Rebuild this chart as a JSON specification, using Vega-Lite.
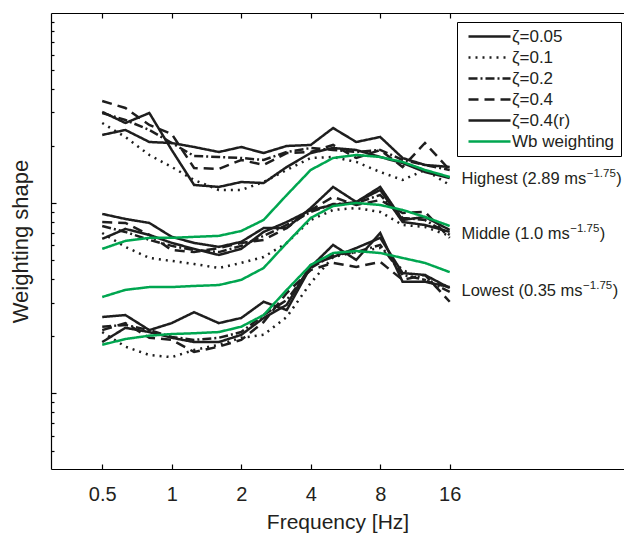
{
  "$schema": "https://vega.github.io/schema/vega-lite/v6.json",
  "width": 573,
  "height": 456,
  "autosize": {"type": "none"},
  "padding": {"left": 51, "top": 13, "right": 0, "bottom": 67},
  "background": "white",
  "config": {
    "view": {"stroke": null},
    "font": "Liberation Sans",
    "axis": {
      "grid": false,
      "domainColor": "#000",
      "domainWidth": 1.2,
      "tickColor": "#000",
      "tickWidth": 1.2,
      "labelFont": "Liberation Sans",
      "labelFontSize": 20,
      "labelColor": "#231f20",
      "titleFont": "Liberation Sans",
      "titleFontSize": 21,
      "titleFontWeight": "normal",
      "titleColor": "#231f20"
    },
    "legend": {
      "orient": "none",
      "legendX": 406,
      "legendY": 9,
      "strokeColor": "#000",
      "fillColor": "#fff",
      "padding": 6,
      "rowPadding": 3,
      "labelFont": "Liberation Sans",
      "labelFontSize": 17,
      "labelColor": "#231f20",
      "symbolType": "M-3,0H3",
      "symbolSize": 196,
      "symbolOffset": 18,
      "labelOffset": 14
    }
  },
  "datasets": {
    "curves": [
      {"g":"H","s":"ζ=0.05","f":0.5,"v":3.02},{"g":"H","s":"ζ=0.05","f":0.63,"v":2.64},{"g":"H","s":"ζ=0.05","f":0.8,"v":2.98},{"g":"H","s":"ζ=0.05","f":1,"v":1.904},{"g":"H","s":"ζ=0.05","f":1.25,"v":1.247},{"g":"H","s":"ζ=0.05","f":1.6,"v":1.217},{"g":"H","s":"ζ=0.05","f":2,"v":1.292},{"g":"H","s":"ζ=0.05","f":2.5,"v":1.276},{"g":"H","s":"ζ=0.05","f":3.15,"v":1.55},{"g":"H","s":"ζ=0.05","f":4,"v":1.835},{"g":"H","s":"ζ=0.05","f":5,"v":1.95},{"g":"H","s":"ζ=0.05","f":6.3,"v":1.904},{"g":"H","s":"ζ=0.05","f":8,"v":1.749},{"g":"H","s":"ζ=0.05","f":10,"v":1.626},{"g":"H","s":"ζ=0.05","f":12.5,"v":1.459},{"g":"H","s":"ζ=0.05","f":16,"v":1.356},
      {"g":"H","s":"ζ=0.1","f":0.5,"v":2.64},{"g":"H","s":"ζ=0.1","f":0.63,"v":2.229},{"g":"H","s":"ζ=0.1","f":0.8,"v":1.792},{"g":"H","s":"ζ=0.1","f":1,"v":1.55},{"g":"H","s":"ζ=0.1","f":1.25,"v":1.324},{"g":"H","s":"ζ=0.1","f":1.6,"v":1.173},{"g":"H","s":"ζ=0.1","f":2,"v":1.173},{"g":"H","s":"ζ=0.1","f":2.5,"v":1.292},{"g":"H","s":"ζ=0.1","f":3.15,"v":1.495},{"g":"H","s":"ζ=0.1","f":4,"v":1.728},{"g":"H","s":"ζ=0.1","f":5,"v":1.749},{"g":"H","s":"ζ=0.1","f":6.3,"v":1.647},{"g":"H","s":"ζ=0.1","f":8,"v":1.459},{"g":"H","s":"ζ=0.1","f":10,"v":1.324},{"g":"H","s":"ζ=0.1","f":12.5,"v":1.495},{"g":"H","s":"ζ=0.1","f":16,"v":1.247},
      {"g":"H","s":"ζ=0.2","f":0.5,"v":2.98},{"g":"H","s":"ζ=0.2","f":0.63,"v":2.738},{"g":"H","s":"ζ=0.2","f":0.8,"v":2.426},{"g":"H","s":"ζ=0.2","f":1,"v":2.072},{"g":"H","s":"ζ=0.2","f":1.25,"v":1.771},{"g":"H","s":"ζ=0.2","f":1.6,"v":1.749},{"g":"H","s":"ζ=0.2","f":2,"v":1.728},{"g":"H","s":"ζ=0.2","f":2.5,"v":1.687},{"g":"H","s":"ζ=0.2","f":3.15,"v":1.858},{"g":"H","s":"ζ=0.2","f":4,"v":1.95},{"g":"H","s":"ζ=0.2","f":5,"v":1.904},{"g":"H","s":"ζ=0.2","f":6.3,"v":1.858},{"g":"H","s":"ζ=0.2","f":8,"v":1.904},{"g":"H","s":"ζ=0.2","f":10,"v":1.687},{"g":"H","s":"ζ=0.2","f":12.5,"v":1.588},{"g":"H","s":"ζ=0.2","f":16,"v":1.495},
      {"g":"H","s":"ζ=0.4","f":0.5,"v":3.446},{"g":"H","s":"ζ=0.4","f":0.63,"v":3.165},{"g":"H","s":"ζ=0.4","f":0.8,"v":2.577},{"g":"H","s":"ζ=0.4","f":1,"v":2.312},{"g":"H","s":"ζ=0.4","f":1.25,"v":1.531},{"g":"H","s":"ζ=0.4","f":1.6,"v":1.513},{"g":"H","s":"ζ=0.4","f":2,"v":1.687},{"g":"H","s":"ζ=0.4","f":2.5,"v":1.588},{"g":"H","s":"ζ=0.4","f":3.15,"v":1.835},{"g":"H","s":"ζ=0.4","f":4,"v":1.858},{"g":"H","s":"ζ=0.4","f":5,"v":2.023},{"g":"H","s":"ζ=0.4","f":6.3,"v":1.728},{"g":"H","s":"ζ=0.4","f":8,"v":1.904},{"g":"H","s":"ζ=0.4","f":10,"v":1.55},{"g":"H","s":"ζ=0.4","f":12.5,"v":2.072},{"g":"H","s":"ζ=0.4","f":16,"v":1.495},
      {"g":"H","s":"ζ=0.4(r)","f":0.5,"v":2.284},{"g":"H","s":"ζ=0.4(r)","f":0.63,"v":2.426},{"g":"H","s":"ζ=0.4(r)","f":0.8,"v":2.097},{"g":"H","s":"ζ=0.4(r)","f":1,"v":2.072},{"g":"H","s":"ζ=0.4(r)","f":1.25,"v":1.974},{"g":"H","s":"ζ=0.4(r)","f":1.6,"v":1.858},{"g":"H","s":"ζ=0.4(r)","f":2,"v":1.974},{"g":"H","s":"ζ=0.4(r)","f":2.5,"v":1.835},{"g":"H","s":"ζ=0.4(r)","f":3.15,"v":1.999},{"g":"H","s":"ζ=0.4(r)","f":4,"v":2.023},{"g":"H","s":"ζ=0.4(r)","f":5,"v":2.484},{"g":"H","s":"ζ=0.4(r)","f":6.3,"v":2.097},{"g":"H","s":"ζ=0.4(r)","f":8,"v":2.229},{"g":"H","s":"ζ=0.4(r)","f":10,"v":1.728},{"g":"H","s":"ζ=0.4(r)","f":12.5,"v":1.588},{"g":"H","s":"ζ=0.4(r)","f":16,"v":1.55},
      {"g":"M","s":"ζ=0.05","f":0.5,"v":0.878},{"g":"M","s":"ζ=0.05","f":0.63,"v":0.826},{"g":"M","s":"ζ=0.05","f":0.8,"v":0.787},{"g":"M","s":"ζ=0.05","f":1,"v":0.665},{"g":"M","s":"ζ=0.05","f":1.25,"v":0.618},{"g":"M","s":"ζ=0.05","f":1.6,"v":0.589},{"g":"M","s":"ζ=0.05","f":2,"v":0.626},{"g":"M","s":"ζ=0.05","f":2.5,"v":0.74},{"g":"M","s":"ζ=0.05","f":3.15,"v":0.74},{"g":"M","s":"ζ=0.05","f":4,"v":0.943},{"g":"M","s":"ζ=0.05","f":5,"v":1.217},{"g":"M","s":"ζ=0.05","f":6.3,"v":1.014},{"g":"M","s":"ζ=0.05","f":8,"v":1.217},{"g":"M","s":"ζ=0.05","f":10,"v":0.816},{"g":"M","s":"ζ=0.05","f":12.5,"v":0.846},{"g":"M","s":"ζ=0.05","f":16,"v":0.723},
      {"g":"M","s":"ζ=0.1","f":0.5,"v":0.697},{"g":"M","s":"ζ=0.1","f":0.63,"v":0.589},{"g":"M","s":"ζ=0.1","f":0.8,"v":0.515},{"g":"M","s":"ζ=0.1","f":1,"v":0.497},{"g":"M","s":"ζ=0.1","f":1.25,"v":0.479},{"g":"M","s":"ζ=0.1","f":1.6,"v":0.456},{"g":"M","s":"ζ=0.1","f":2,"v":0.485},{"g":"M","s":"ζ=0.1","f":2.5,"v":0.521},{"g":"M","s":"ζ=0.1","f":3.15,"v":0.618},{"g":"M","s":"ζ=0.1","f":4,"v":0.816},{"g":"M","s":"ζ=0.1","f":5,"v":0.921},{"g":"M","s":"ζ=0.1","f":6.3,"v":0.943},{"g":"M","s":"ζ=0.1","f":8,"v":0.899},{"g":"M","s":"ζ=0.1","f":10,"v":0.768},{"g":"M","s":"ζ=0.1","f":12.5,"v":0.75},{"g":"M","s":"ζ=0.1","f":16,"v":0.673},
      {"g":"M","s":"ζ=0.2","f":0.5,"v":0.759},{"g":"M","s":"ζ=0.2","f":0.63,"v":0.706},{"g":"M","s":"ζ=0.2","f":0.8,"v":0.641},{"g":"M","s":"ζ=0.2","f":1,"v":0.596},{"g":"M","s":"ζ=0.2","f":1.25,"v":0.567},{"g":"M","s":"ζ=0.2","f":1.6,"v":0.553},{"g":"M","s":"ζ=0.2","f":2,"v":0.596},{"g":"M","s":"ζ=0.2","f":2.5,"v":0.673},{"g":"M","s":"ζ=0.2","f":3.15,"v":0.768},{"g":"M","s":"ζ=0.2","f":4,"v":0.899},{"g":"M","s":"ζ=0.2","f":5,"v":0.99},{"g":"M","s":"ζ=0.2","f":6.3,"v":1.002},{"g":"M","s":"ζ=0.2","f":8,"v":1.104},{"g":"M","s":"ζ=0.2","f":10,"v":0.836},{"g":"M","s":"ζ=0.2","f":12.5,"v":0.816},{"g":"M","s":"ζ=0.2","f":16,"v":0.681},
      {"g":"M","s":"ζ=0.4","f":0.5,"v":0.796},{"g":"M","s":"ζ=0.4","f":0.63,"v":0.787},{"g":"M","s":"ζ=0.4","f":0.8,"v":0.681},{"g":"M","s":"ζ=0.4","f":1,"v":0.567},{"g":"M","s":"ζ=0.4","f":1.25,"v":0.553},{"g":"M","s":"ζ=0.4","f":1.6,"v":0.581},{"g":"M","s":"ζ=0.4","f":2,"v":0.618},{"g":"M","s":"ζ=0.4","f":2.5,"v":0.641},{"g":"M","s":"ζ=0.4","f":3.15,"v":0.74},{"g":"M","s":"ζ=0.4","f":4,"v":0.921},{"g":"M","s":"ζ=0.4","f":5,"v":1.078},{"g":"M","s":"ζ=0.4","f":6.3,"v":0.978},{"g":"M","s":"ζ=0.4","f":8,"v":1.039},{"g":"M","s":"ζ=0.4","f":10,"v":0.888},{"g":"M","s":"ζ=0.4","f":12.5,"v":0.899},{"g":"M","s":"ζ=0.4","f":16,"v":0.657},
      {"g":"M","s":"ζ=0.4(r)","f":0.5,"v":0.649},{"g":"M","s":"ζ=0.4(r)","f":0.63,"v":0.732},{"g":"M","s":"ζ=0.4(r)","f":0.8,"v":0.681},{"g":"M","s":"ζ=0.4(r)","f":1,"v":0.618},{"g":"M","s":"ζ=0.4(r)","f":1.25,"v":0.575},{"g":"M","s":"ζ=0.4(r)","f":1.6,"v":0.534},{"g":"M","s":"ζ=0.4(r)","f":2,"v":0.575},{"g":"M","s":"ζ=0.4(r)","f":2.5,"v":0.706},{"g":"M","s":"ζ=0.4(r)","f":3.15,"v":0.796},{"g":"M","s":"ζ=0.4(r)","f":4,"v":0.921},{"g":"M","s":"ζ=0.4(r)","f":5,"v":0.978},{"g":"M","s":"ζ=0.4(r)","f":6.3,"v":1.014},{"g":"M","s":"ζ=0.4(r)","f":8,"v":1.173},{"g":"M","s":"ζ=0.4(r)","f":10,"v":0.796},{"g":"M","s":"ζ=0.4(r)","f":12.5,"v":0.768},{"g":"M","s":"ζ=0.4(r)","f":16,"v":0.706},
      {"g":"L","s":"ζ=0.05","f":0.5,"v":0.252},{"g":"L","s":"ζ=0.05","f":0.63,"v":0.258},{"g":"L","s":"ζ=0.05","f":0.8,"v":0.215},{"g":"L","s":"ζ=0.05","f":1,"v":0.234},{"g":"L","s":"ζ=0.05","f":1.25,"v":0.267},{"g":"L","s":"ζ=0.05","f":1.6,"v":0.234},{"g":"L","s":"ζ=0.05","f":2,"v":0.249},{"g":"L","s":"ζ=0.05","f":2.5,"v":0.303},{"g":"L","s":"ζ=0.05","f":3.15,"v":0.274},{"g":"L","s":"ζ=0.05","f":4,"v":0.462},{"g":"L","s":"ζ=0.05","f":5,"v":0.603},{"g":"L","s":"ζ=0.05","f":6.3,"v":0.503},{"g":"L","s":"ζ=0.05","f":8,"v":0.697},{"g":"L","s":"ζ=0.05","f":10,"v":0.386},{"g":"L","s":"ζ=0.05","f":12.5,"v":0.386},{"g":"L","s":"ζ=0.05","f":16,"v":0.362},
      {"g":"L","s":"ζ=0.1","f":0.5,"v":0.21},{"g":"L","s":"ζ=0.1","f":0.63,"v":0.176},{"g":"L","s":"ζ=0.1","f":0.8,"v":0.159},{"g":"L","s":"ζ=0.1","f":1,"v":0.155},{"g":"L","s":"ζ=0.1","f":1.25,"v":0.169},{"g":"L","s":"ζ=0.1","f":1.6,"v":0.18},{"g":"L","s":"ζ=0.1","f":2,"v":0.196},{"g":"L","s":"ζ=0.1","f":2.5,"v":0.203},{"g":"L","s":"ζ=0.1","f":3.15,"v":0.252},{"g":"L","s":"ζ=0.1","f":4,"v":0.381},{"g":"L","s":"ζ=0.1","f":5,"v":0.521},{"g":"L","s":"ζ=0.1","f":6.3,"v":0.553},{"g":"L","s":"ζ=0.1","f":8,"v":0.581},{"g":"L","s":"ζ=0.1","f":10,"v":0.445},{"g":"L","s":"ζ=0.1","f":12.5,"v":0.395},{"g":"L","s":"ζ=0.1","f":16,"v":0.362},
      {"g":"L","s":"ζ=0.2","f":0.5,"v":0.224},{"g":"L","s":"ζ=0.2","f":0.63,"v":0.229},{"g":"L","s":"ζ=0.2","f":0.8,"v":0.215},{"g":"L","s":"ζ=0.2","f":1,"v":0.198},{"g":"L","s":"ζ=0.2","f":1.25,"v":0.191},{"g":"L","s":"ζ=0.2","f":1.6,"v":0.196},{"g":"L","s":"ζ=0.2","f":2,"v":0.21},{"g":"L","s":"ζ=0.2","f":2.5,"v":0.258},{"g":"L","s":"ζ=0.2","f":3.15,"v":0.31},{"g":"L","s":"ζ=0.2","f":4,"v":0.456},{"g":"L","s":"ζ=0.2","f":5,"v":0.534},{"g":"L","s":"ζ=0.2","f":6.3,"v":0.553},{"g":"L","s":"ζ=0.2","f":8,"v":0.603},{"g":"L","s":"ζ=0.2","f":10,"v":0.419},{"g":"L","s":"ζ=0.2","f":12.5,"v":0.395},{"g":"L","s":"ζ=0.2","f":16,"v":0.342},
      {"g":"L","s":"ζ=0.4","f":0.5,"v":0.215},{"g":"L","s":"ζ=0.4","f":0.63,"v":0.234},{"g":"L","s":"ζ=0.4","f":0.8,"v":0.196},{"g":"L","s":"ζ=0.4","f":1,"v":0.191},{"g":"L","s":"ζ=0.4","f":1.25,"v":0.165},{"g":"L","s":"ζ=0.4","f":1.6,"v":0.176},{"g":"L","s":"ζ=0.4","f":2,"v":0.191},{"g":"L","s":"ζ=0.4","f":2.5,"v":0.237},{"g":"L","s":"ζ=0.4","f":3.15,"v":0.337},{"g":"L","s":"ζ=0.4","f":4,"v":0.445},{"g":"L","s":"ζ=0.4","f":5,"v":0.485},{"g":"L","s":"ζ=0.4","f":6.3,"v":0.462},{"g":"L","s":"ζ=0.4","f":8,"v":0.491},{"g":"L","s":"ζ=0.4","f":10,"v":0.395},{"g":"L","s":"ζ=0.4","f":12.5,"v":0.419},{"g":"L","s":"ζ=0.4","f":16,"v":0.303},
      {"g":"L","s":"ζ=0.4(r)","f":0.5,"v":0.186},{"g":"L","s":"ζ=0.4(r)","f":0.63,"v":0.221},{"g":"L","s":"ζ=0.4(r)","f":0.8,"v":0.21},{"g":"L","s":"ζ=0.4(r)","f":1,"v":0.196},{"g":"L","s":"ζ=0.4(r)","f":1.25,"v":0.186},{"g":"L","s":"ζ=0.4(r)","f":1.6,"v":0.186},{"g":"L","s":"ζ=0.4(r)","f":2,"v":0.203},{"g":"L","s":"ζ=0.4(r)","f":2.5,"v":0.249},{"g":"L","s":"ζ=0.4(r)","f":3.15,"v":0.292},{"g":"L","s":"ζ=0.4(r)","f":4,"v":0.473},{"g":"L","s":"ζ=0.4(r)","f":5,"v":0.521},{"g":"L","s":"ζ=0.4(r)","f":6.3,"v":0.581},{"g":"L","s":"ζ=0.4(r)","f":8,"v":0.657},{"g":"L","s":"ζ=0.4(r)","f":10,"v":0.429},{"g":"L","s":"ζ=0.4(r)","f":12.5,"v":0.419},{"g":"L","s":"ζ=0.4(r)","f":16,"v":0.358},
      {"g":"H","s":"Wb weighting","f":0.5,"v":0.575},{"g":"H","s":"Wb weighting","f":0.63,"v":0.633},{"g":"H","s":"Wb weighting","f":0.8,"v":0.657},{"g":"H","s":"Wb weighting","f":1,"v":0.657},{"g":"H","s":"Wb weighting","f":1.25,"v":0.665},{"g":"H","s":"Wb weighting","f":1.6,"v":0.673},{"g":"H","s":"Wb weighting","f":2,"v":0.714},{"g":"H","s":"Wb weighting","f":2.5,"v":0.816},{"g":"H","s":"Wb weighting","f":3.15,"v":1.104},{"g":"H","s":"Wb weighting","f":4,"v":1.495},{"g":"H","s":"Wb weighting","f":5,"v":1.728},{"g":"H","s":"Wb weighting","f":6.3,"v":1.792},{"g":"H","s":"Wb weighting","f":8,"v":1.749},{"g":"H","s":"Wb weighting","f":10,"v":1.647},{"g":"H","s":"Wb weighting","f":12.5,"v":1.495},{"g":"H","s":"Wb weighting","f":16,"v":1.373},
      {"g":"M","s":"Wb weighting","f":0.5,"v":0.321},{"g":"M","s":"Wb weighting","f":0.63,"v":0.35},{"g":"M","s":"Wb weighting","f":0.8,"v":0.362},{"g":"M","s":"Wb weighting","f":1,"v":0.362},{"g":"M","s":"Wb weighting","f":1.25,"v":0.367},{"g":"M","s":"Wb weighting","f":1.6,"v":0.371},{"g":"M","s":"Wb weighting","f":2,"v":0.395},{"g":"M","s":"Wb weighting","f":2.5,"v":0.456},{"g":"M","s":"Wb weighting","f":3.15,"v":0.618},{"g":"M","s":"Wb weighting","f":4,"v":0.836},{"g":"M","s":"Wb weighting","f":5,"v":0.966},{"g":"M","s":"Wb weighting","f":6.3,"v":1.002},{"g":"M","s":"Wb weighting","f":8,"v":0.978},{"g":"M","s":"Wb weighting","f":10,"v":0.921},{"g":"M","s":"Wb weighting","f":12.5,"v":0.846},{"g":"M","s":"Wb weighting","f":16,"v":0.759},
      {"g":"L","s":"Wb weighting","f":0.5,"v":0.18},{"g":"L","s":"Wb weighting","f":0.63,"v":0.193},{"g":"L","s":"Wb weighting","f":0.8,"v":0.201},{"g":"L","s":"Wb weighting","f":1,"v":0.205},{"g":"L","s":"Wb weighting","f":1.25,"v":0.207},{"g":"L","s":"Wb weighting","f":1.6,"v":0.21},{"g":"L","s":"Wb weighting","f":2,"v":0.224},{"g":"L","s":"Wb weighting","f":2.5,"v":0.258},{"g":"L","s":"Wb weighting","f":3.15,"v":0.35},{"g":"L","s":"Wb weighting","f":4,"v":0.473},{"g":"L","s":"Wb weighting","f":5,"v":0.547},{"g":"L","s":"Wb weighting","f":6.3,"v":0.56},{"g":"L","s":"Wb weighting","f":8,"v":0.547},{"g":"L","s":"Wb weighting","f":10,"v":0.515},{"g":"L","s":"Wb weighting","f":12.5,"v":0.485},{"g":"L","s":"Wb weighting","f":16,"v":0.434}
    ],
    "notes": [
      {"lvl":"Highest","f":18,"v":1.267,"t":"Highest (2.89 ms","sup":"−1.75","close":")"},
      {"lvl":"Middle","f":18,"v":0.649,"t":"Middle (1.0 ms","sup":"−1.75","close":")"},
      {"lvl":"Lowest","f":18,"v":0.325,"t":"Lowest (0.35 ms","sup":"−1.75","close":")"}
    ]
  },
  "layer": [
    {
      "data": {"name": "curves"},
      "mark": {"type": "line", "strokeCap": "butt", "strokeJoin": "miter"},
      "encoding": {
        "x": {"field": "f", "type": "quantitative",
          "scale": {"type": "log", "domain": [0.3, 91], "nice": false},
          "axis": {"orient": "bottom", "values": [0.5, 1, 2, 4, 8, 16], "format": "~g", "tickSize": -5, "labelPadding": 20, "labelFlush": false, "title": "Frequency [Hz]", "titlePadding": 7}},
        "y": {"field": "v", "type": "quantitative",
          "scale": {"type": "log", "domain": [0.04, 10], "nice": false},
          "axis": {"orient": "left", "values": [0.05,0.06,0.07,0.08,0.09,0.1,0.2,0.3,0.4,0.5,0.6,0.7,0.8,0.9,1,2,3,4,5,6,7,8,9], "labels": false,
            "tickSize": {"condition": {"test": "datum.value == 0.1 || datum.value == 1", "value": -5}, "value": -3},
            "title": "Weighting shape", "titleFontSize": 22, "titlePadding": 18}},
        "color": {"field": "s", "type": "ordinal", "title": null,
          "scale": {"domain": ["ζ=0.05","ζ=0.1","ζ=0.2","ζ=0.4","ζ=0.4(r)","Wb weighting"], "range": ["#1e1e1e","#1e1e1e","#1e1e1e","#1e1e1e","#1e1e1e","#00a650"]}},
        "strokeDash": {"field": "s", "type": "ordinal", "title": null,
          "scale": {"domain": ["ζ=0.05","ζ=0.1","ζ=0.2","ζ=0.4","ζ=0.4(r)","Wb weighting"], "range": [[1,0],[2,5],[9,3,2,3],[10,6],[1,0],[1,0]]}},
        "strokeWidth": {"field": "s", "type": "ordinal", "title": null,
          "scale": {"domain": ["ζ=0.05","ζ=0.1","ζ=0.2","ζ=0.4","ζ=0.4(r)","Wb weighting"], "range": [2.5,2.5,2.5,2.5,2.5,4]}},
        "detail": {"field": "g"}
      }
    },
    {
      "data": {"name": "notes"},
      "mark": {"type": "text", "align": "left", "baseline": "alphabetic", "fontSize": 16.5, "font": "Liberation Sans", "color": "#231f20"},
      "encoding": {
        "x": {"field": "f", "type": "quantitative", "scale": {"type": "log", "domain": [0.3, 91], "nice": false},
          "axis": {"orient": "top", "values": [0.5, 1, 2, 4, 8, 16], "labels": false, "tickSize": -5, "title": null}},
        "y": {"field": "v", "type": "quantitative", "scale": {"type": "log", "domain": [0.04, 10], "nice": false}, "axis": null},
        "text": {"field": "t"}
      }
    },
    {
      "data": {"name": "notes"},
      "transform": [{"filter": "datum.lvl == 'Highest'"}],
      "mark": {"type": "text", "align": "left", "baseline": "alphabetic", "fontSize": 11.5, "font": "Liberation Sans", "color": "#231f20", "dx": 125.2, "dy": -7},
      "encoding": {
        "x": {"field": "f", "type": "quantitative", "scale": {"type": "log", "domain": [0.3, 91], "nice": false}, "axis": null},
        "y": {"field": "v", "type": "quantitative", "scale": {"type": "log", "domain": [0.04, 10], "nice": false}, "axis": null},
        "text": {"field": "sup"}
      }
    },
    {
      "data": {"name": "notes"},
      "transform": [{"filter": "datum.lvl == 'Highest'"}],
      "mark": {"type": "text", "align": "left", "baseline": "alphabetic", "fontSize": 16.5, "font": "Liberation Sans", "color": "#231f20", "dx": 154.8},
      "encoding": {
        "x": {"field": "f", "type": "quantitative", "scale": {"type": "log", "domain": [0.3, 91], "nice": false}, "axis": null},
        "y": {"field": "v", "type": "quantitative", "scale": {"type": "log", "domain": [0.04, 10], "nice": false}, "axis": null},
        "text": {"field": "close"}
      }
    },
    {
      "data": {"name": "notes"},
      "transform": [{"filter": "datum.lvl == 'Middle'"}],
      "mark": {"type": "text", "align": "left", "baseline": "alphabetic", "fontSize": 11.5, "font": "Liberation Sans", "color": "#231f20", "dx": 108.7, "dy": -7},
      "encoding": {
        "x": {"field": "f", "type": "quantitative", "scale": {"type": "log", "domain": [0.3, 91], "nice": false}, "axis": null},
        "y": {"field": "v", "type": "quantitative", "scale": {"type": "log", "domain": [0.04, 10], "nice": false}, "axis": null},
        "text": {"field": "sup"}
      }
    },
    {
      "data": {"name": "notes"},
      "transform": [{"filter": "datum.lvl == 'Middle'"}],
      "mark": {"type": "text", "align": "left", "baseline": "alphabetic", "fontSize": 16.5, "font": "Liberation Sans", "color": "#231f20", "dx": 138.3},
      "encoding": {
        "x": {"field": "f", "type": "quantitative", "scale": {"type": "log", "domain": [0.3, 91], "nice": false}, "axis": null},
        "y": {"field": "v", "type": "quantitative", "scale": {"type": "log", "domain": [0.04, 10], "nice": false}, "axis": null},
        "text": {"field": "close"}
      }
    },
    {
      "data": {"name": "notes"},
      "transform": [{"filter": "datum.lvl == 'Lowest'"}],
      "mark": {"type": "text", "align": "left", "baseline": "alphabetic", "fontSize": 11.5, "font": "Liberation Sans", "color": "#231f20", "dx": 121.6, "dy": -7},
      "encoding": {
        "x": {"field": "f", "type": "quantitative", "scale": {"type": "log", "domain": [0.3, 91], "nice": false}, "axis": null},
        "y": {"field": "v", "type": "quantitative", "scale": {"type": "log", "domain": [0.04, 10], "nice": false}, "axis": null},
        "text": {"field": "sup"}
      }
    },
    {
      "data": {"name": "notes"},
      "transform": [{"filter": "datum.lvl == 'Lowest'"}],
      "mark": {"type": "text", "align": "left", "baseline": "alphabetic", "fontSize": 16.5, "font": "Liberation Sans", "color": "#231f20", "dx": 151.2},
      "encoding": {
        "x": {"field": "f", "type": "quantitative", "scale": {"type": "log", "domain": [0.3, 91], "nice": false}, "axis": null},
        "y": {"field": "v", "type": "quantitative", "scale": {"type": "log", "domain": [0.04, 10], "nice": false}, "axis": null},
        "text": {"field": "close"}
      }
    }
  ],
  "resolve": {"axis": {"x": "independent", "y": "independent"}}
}
